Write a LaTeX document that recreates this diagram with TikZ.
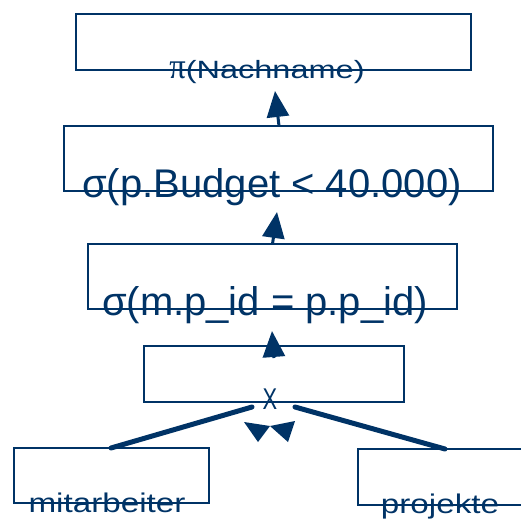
\documentclass[tikz,border=0pt]{standalone}
\usepackage{fontspec}
\setmainfont{Liberation Sans}
\newfontfamily\piserif{Liberation Serif}
\usetikzlibrary{arrows.meta}
\definecolor{navy}{HTML}{003366}
\begin{document}
\begin{tikzpicture}[x=1pt,y=-1pt,
  box/.style={draw=navy,line width=1.3pt,inner sep=0pt,outer sep=0pt},
  lbl/.style={text=navy,anchor=base,inner sep=0pt},
  big/.style={lbl,font=\fontsize{40}{44}\selectfont},
  small/.style={lbl,font=\fontsize{27}{31}\selectfont},
  arr/.style={draw=navy,line width=3pt,-{Triangle[length=26pt,width=22pt]}},
  feed/.style={draw=navy,line width=5pt,line cap=round},
  headfill/.style={fill=navy}]
\useasboundingbox (0,0) rectangle (521,522);
% boxes
\node[box,minimum width=395pt,minimum height=56pt] (b1) at (273.5,42) {};
\node[box,minimum width=429pt,minimum height=65pt] (b2) at (278.5,158.5) {};
\node[box,minimum width=369pt,minimum height=65pt] (b3) at (272.5,276.5) {};
\node[box,minimum width=260pt,minimum height=56pt] (b4) at (274,374) {};
\node[box,minimum width=195pt,minimum height=55pt] (b5) at (111.5,475.5) {};
\node[box,minimum width=202pt,minimum height=56pt] (b6) at (459,477) {};
% labels
\node[lbl,font=\fontsize{25}{29}\selectfont] (t1) at (267,78) {\scalebox{1.3}[1]{{\piserif\scalebox{1}[1.45]{π}}(Nachname)}};
\node[big] (t2) at (272,197) {σ(p.Budget < 40.000)};
\node[big] (t3) at (265,315) {σ(m.p\_id = p.p\_id)};
\node[lbl,font=\fontsize{30}{34}\selectfont] (t4) at (270,409) {\scalebox{0.73}[1]{X}};
\node[small] (t5) at (107,512) {\scalebox{1.23}[1]{mitarbeiter}};
\node[small] (t6) at (440,513) {\scalebox{1.23}[1]{projekte}};
% arrow tips
\coordinate (tip1) at (275,91);
\coordinate (tip2) at (277,212);
\coordinate (tip3) at (272,331);
\draw[arr] ([xshift=0.5pt]b2.north) -- (tip1);
\draw[arr] (b3.north) -- (tip2);
\draw[arr] ([yshift=-12pt]b4.north) -- (tip3);
% join lines
\coordinate (j1) at (252,407);
\coordinate (j2) at (295,407);
\draw[feed] ([xshift=-0.5pt]b5.north) -- (j1);
\draw[feed] ([xshift=-14pt]b6.north) -- (j2);
\fill[headfill] (244,422) -- (270,426) -- (258,442) -- cycle;
\fill[headfill] (295,421) -- (270,426) -- (288,442) -- cycle;
\end{tikzpicture}
\end{document}
